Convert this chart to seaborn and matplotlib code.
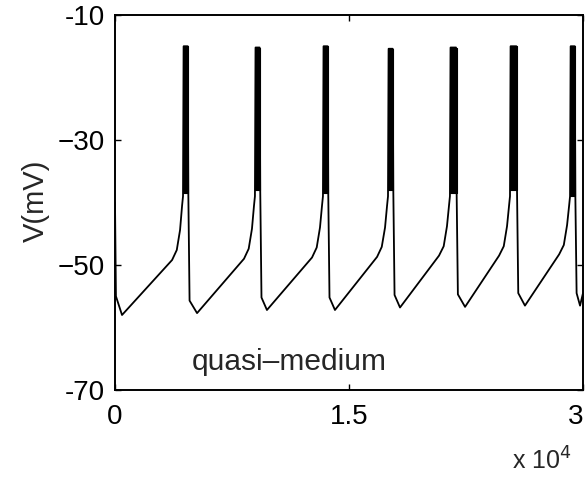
import numpy as np
import pandas as pd
import matplotlib
matplotlib.use("Agg")
import matplotlib.pyplot as plt
import seaborn as sns

# ---- data (time in units of 1e4) ----
start_t = [0.0, 0.006]
start_v = [-40.0, -55.0]
spike_up = [0.436, 0.897, 1.333, 1.750, 2.147, 2.532, 2.917]
spike_down = [0.470, 0.931, 1.367, 1.784, 2.190, 2.577, 2.951]
trough_t = [0.045, 0.526, 0.974, 1.410, 1.827, 2.244, 2.628, 2.981]
trough_v = [-58.0, -57.7, -57.2, -57.2, -56.8, -56.7, -56.5, -56.5]
ramp_end_v = [-49.2, -49.0, -48.8, -48.7, -48.5, -48.5, -48.3]
bend_v = [-47.6, -47.4, -47.2, -47.1, -47.0, -47.0, -46.8]
knee_v = [-44.4, -44.2, -44.0, -44.0, -43.8, -43.8, -43.6]
spike_foot_v = [-39.0, -39.0, -39.0, -39.0, -39.0, -39.0, -39.0]
spike_peak_v = [-15.0, -15.2, -15.0, -15.4, -15.2, -15.0, -15.0]
band_low_v = [-38.5, -38.0, -38.5, -38.0, -38.5, -38.0, -39.0]
end_t = [3.0]
end_v = [-54.5]

yticks = [-10, -30, -50, -70]
ytick_labels = ["-10", "\u221230", "\u221250", "-70"]
xticks = [0, 1.5, 3]
xtick_labels = ["0", "1.5", "3"]

# ---- assemble trace vertices ----
ts, vs = list(start_t), list(start_v)
ts.append(trough_t[0]); vs.append(trough_v[0])
for k in range(len(spike_up)):
    tu, td = spike_up[k], spike_down[k]
    ts += [tu - 0.070, tu - 0.040, tu - 0.019, tu - 0.006, tu, tu + 0.004,
           td - 0.004, td, td + 0.008, trough_t[k + 1]]
    vs += [ramp_end_v[k], bend_v[k], knee_v[k], spike_foot_v[k] - 1.5, spike_foot_v[k],
           spike_peak_v[k], spike_peak_v[k], band_low_v[k], trough_v[k + 1] + 2.0,
           trough_v[k + 1]]
ts += end_t; vs += end_v
df = pd.DataFrame({"t": ts, "V": vs})

sns.set_style("ticks")
plt.rcParams["font.family"] = ["Liberation Sans", "DejaVu Sans"]

fig = plt.figure(figsize=(5.85, 4.79), dpi=100)
ax = fig.add_axes([115 / 585, 1 - 390 / 479, (583 - 115) / 585, (390 - 15) / 479])

sns.lineplot(data=df, x="t", y="V", sort=False, estimator=None, color="black",
             linewidth=1.3, ax=ax)
for k in range(len(spike_up)):
    ax.fill_betweenx([band_low_v[k], spike_peak_v[k]], spike_up[k], spike_down[k],
                     color="black", linewidth=0.8)

ax.set_xlim(0, 3)
ax.set_ylim(-70, -10)
ax.set_yticks(yticks)
ax.set_yticklabels(ytick_labels)
ax.set_xticks(xticks)
ax.set_xticklabels(xtick_labels)
ax.tick_params(direction="in", length=4, width=1, top=True, right=True,
               labelsize=20, colors="black")
ax.tick_params(axis="y", pad=7)
ax.tick_params(axis="x", pad=10)
# keep the last (edge) tick label inside the figure
xl = ax.get_xticklabels()
xl[-1].set_horizontalalignment("right")
ax.set_xlabel("")
ax.set_ylabel("V(mV)", fontsize=21)
ax.yaxis.set_label_coords(-0.139, 0.505)
for s in ax.spines.values():
    s.set_linewidth(1.4)
    s.set_color("black")

ax.text(0.49, -65.6, "quasi\u2013medium", fontsize=21.5, va="center", ha="left")
fig.text(512 / 585, 1 - 461 / 479, r"x 10$^4$", fontsize=18, va="center", ha="left")

fig.savefig("out.png", dpi=100)
